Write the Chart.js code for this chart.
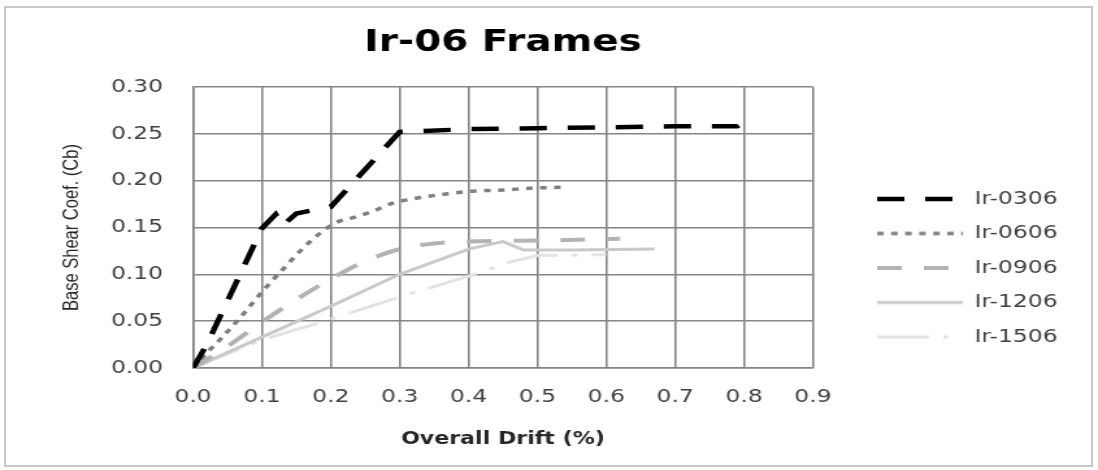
<!DOCTYPE html>
<html>
<head>
<meta charset="utf-8">
<script src="https://cdn.jsdelivr.net/npm/chart.js@4"></script>
<style>
  html, body { margin: 0; padding: 0; background: #fff; }
  #page { position: relative; width: 1098px; height: 470px; overflow: hidden; }
  /* the picture is wider than Excel drew it, so stretch the canvas sideways */
  #wrap { position: absolute; left: 0; top: 0; width: 845px; height: 470px;
          transform: scaleX(1.2994); transform-origin: 0 0; }
  #frame { position: absolute; left: 4px; top: 6px; width: 1085px; height: 457px;
           border: 2px solid #c8c8c8; pointer-events: none; }
</style>
</head>
<body>
<div id="page">
  <div id="wrap"><canvas id="myChart" width="845" height="470"></canvas></div>
  <div id="frame"></div>
</div>
<script>
// values (drift in %, base shear coef.)
var seriesNames = ['Ir-0306', 'Ir-0606', 'Ir-0906', 'Ir-1206', 'Ir-1506'];

var ir0306Drift = [0, 0.02, 0.1, 0.12, 0.13, 0.15, 0.2, 0.3, 0.4, 0.5, 0.6, 0.7, 0.79, 0.8];
var ir0306Shear = [0, 0.025, 0.149, 0.164, 0.152, 0.165, 0.172, 0.252, 0.255, 0.256, 0.257, 0.258, 0.258, 0.262];

var ir0606Drift = [0, 0.02, 0.04, 0.07, 0.1, 0.13, 0.16, 0.19, 0.21, 0.23, 0.26, 0.29, 0.33, 0.37, 0.41, 0.45, 0.49, 0.54];
var ir0606Shear = [0, 0.016, 0.031, 0.055, 0.081, 0.105, 0.128, 0.147, 0.156, 0.16, 0.167, 0.176, 0.182, 0.186, 0.189, 0.19, 0.192, 0.193];

var ir0906Drift = [0, 0.05, 0.1, 0.15, 0.2, 0.25, 0.3, 0.35, 0.4, 0.5, 0.62];
var ir0906Shear = [0, 0.023, 0.049, 0.073, 0.095, 0.114, 0.127, 0.133, 0.135, 0.136, 0.138];

var ir1206Drift = [0, 0.1, 0.2, 0.3, 0.4, 0.45, 0.48, 0.55, 0.67];
var ir1206Shear = [0, 0.033, 0.066, 0.1, 0.127, 0.135, 0.126, 0.126, 0.127];

var ir1506Drift = [0, 0.1, 0.2, 0.3, 0.4, 0.46, 0.5, 0.6];
var ir1506Shear = [0, 0.03, 0.052, 0.076, 0.098, 0.113, 0.12, 0.121];

function pts(xs, ys) {
    return xs.map(function(x, i){ return {x: x, y: ys[i]}; });
}

// legend swatch: a short piece of the series' line, used as its point style
function swatch(color, width, dash) {
    var c = document.createElement('canvas');
    c.width = 66; c.height = 10;
    var g = c.getContext('2d');
    g.strokeStyle = color;
    g.lineWidth = width;
    g.setLineDash(dash);
    g.beginPath();
    g.moveTo(0, 5);
    g.lineTo(66, 5);
    g.stroke();
    return c;
}

function series(i, xs, ys, color, width, dash, smooth) {
    return {
        label: seriesNames[i],
        data: pts(xs, ys),
        borderColor: color,
        borderWidth: width,
        borderDash: dash,
        pointStyle: swatch(color, width, dash),
        cubicInterpolationMode: smooth ? 'monotone' : 'default'
    };
}

var tickFont = {family: 'DejaVu Sans', size: 18};
var gridColor = '#858585';

// Excel put the legend lower and further right than Chart.js does
var legendNudge = {
    id: 'legendNudge',
    afterLayout: function(chart) {
        var lg = chart.legend;
        var pad = lg.options.labels.padding;
        lg.left = 675 - pad;
        lg.right = lg.left + lg.width;
        lg.top = 199 - 9 - pad;
        lg.bottom = lg.top + lg.height;
    }
};

var ctx = document.getElementById('myChart').getContext('2d');
var myChart = new Chart(ctx, {
    type: 'line',
    data: {
        datasets: [
            series(0, ir0306Drift, ir0306Shear, '#000000', 4.5, [21, 16], false),
            series(1, ir0606Drift, ir0606Shear, '#7f7f7f', 3.5, [5, 5.8], true),
            series(2, ir0906Drift, ir0906Shear, '#b3b3b3', 4, [19, 17], true),
            series(3, ir1206Drift, ir1206Shear, '#c9c9c9', 3, [], false),
            series(4, ir1506Drift, ir1506Shear, '#e3e3e3', 3, [40, 11, 4, 11], false)
        ]
    },
    options: {
        responsive: false,
        animation: false,
        elements: { point: { radius: 0, hoverRadius: 0 }, line: { fill: false } },
        layout: { padding: { left: 0, top: 0, right: 54, bottom: 0 } },
        plugins: {
            title: {
                display: true,
                text: 'Ir-06 Frames',
                fullSize: false,
                color: '#000',
                font: { family: 'DejaVu Sans', size: 30, weight: 'bold' },
                padding: { top: 25, bottom: 26 }
            },
            legend: {
                position: 'right',
                fullSize: false,
                align: 'start',
                labels: {
                    usePointStyle: true,
                    pointStyleWidth: 66,
                    padding: 16.5,
                    color: '#404040',
                    font: tickFont
                }
            },
            tooltip: { enabled: false }
        },
        scales: {
            x: {
                type: 'linear',
                min: 0,
                max: 0.9,
                ticks: {
                    stepSize: 0.1,
                    padding: 19,
                    color: '#404040',
                    font: tickFont,
                    callback: function(v){ return v.toFixed(1); }
                },
                grid: { color: gridColor, lineWidth: 1.6, drawTicks: false },
                border: { color: gridColor, width: 1.6 },
                title: {
                    display: true,
                    text: 'Overall Drift (%)',
                    color: '#262626',
                    font: { family: 'DejaVu Sans', size: 17, weight: 'bold' },
                    padding: { top: 0, bottom: 20 }
                },
                afterFit: function(s){ s.height = 102; }
            },
            y: {
                min: 0,
                max: 0.3,
                ticks: {
                    stepSize: 0.05,
                    padding: 23,
                    color: '#404040',
                    font: tickFont,
                    callback: function(v){ return v.toFixed(2); }
                },
                grid: { color: gridColor, lineWidth: 1.6, drawTicks: false },
                border: { color: gridColor, width: 1.6 },
                title: {
                    display: true,
                    text: 'Base Shear Coef. (Cb)',
                    color: '#262626',
                    font: { family: 'Liberation Sans', size: 16.5 },
                    padding: { top: 46, bottom: 0 }
                },
                afterFit: function(s){ s.width = 148.5; }
            }
        }
    },
    plugins: [legendNudge]
});
</script>
</body>
</html>
